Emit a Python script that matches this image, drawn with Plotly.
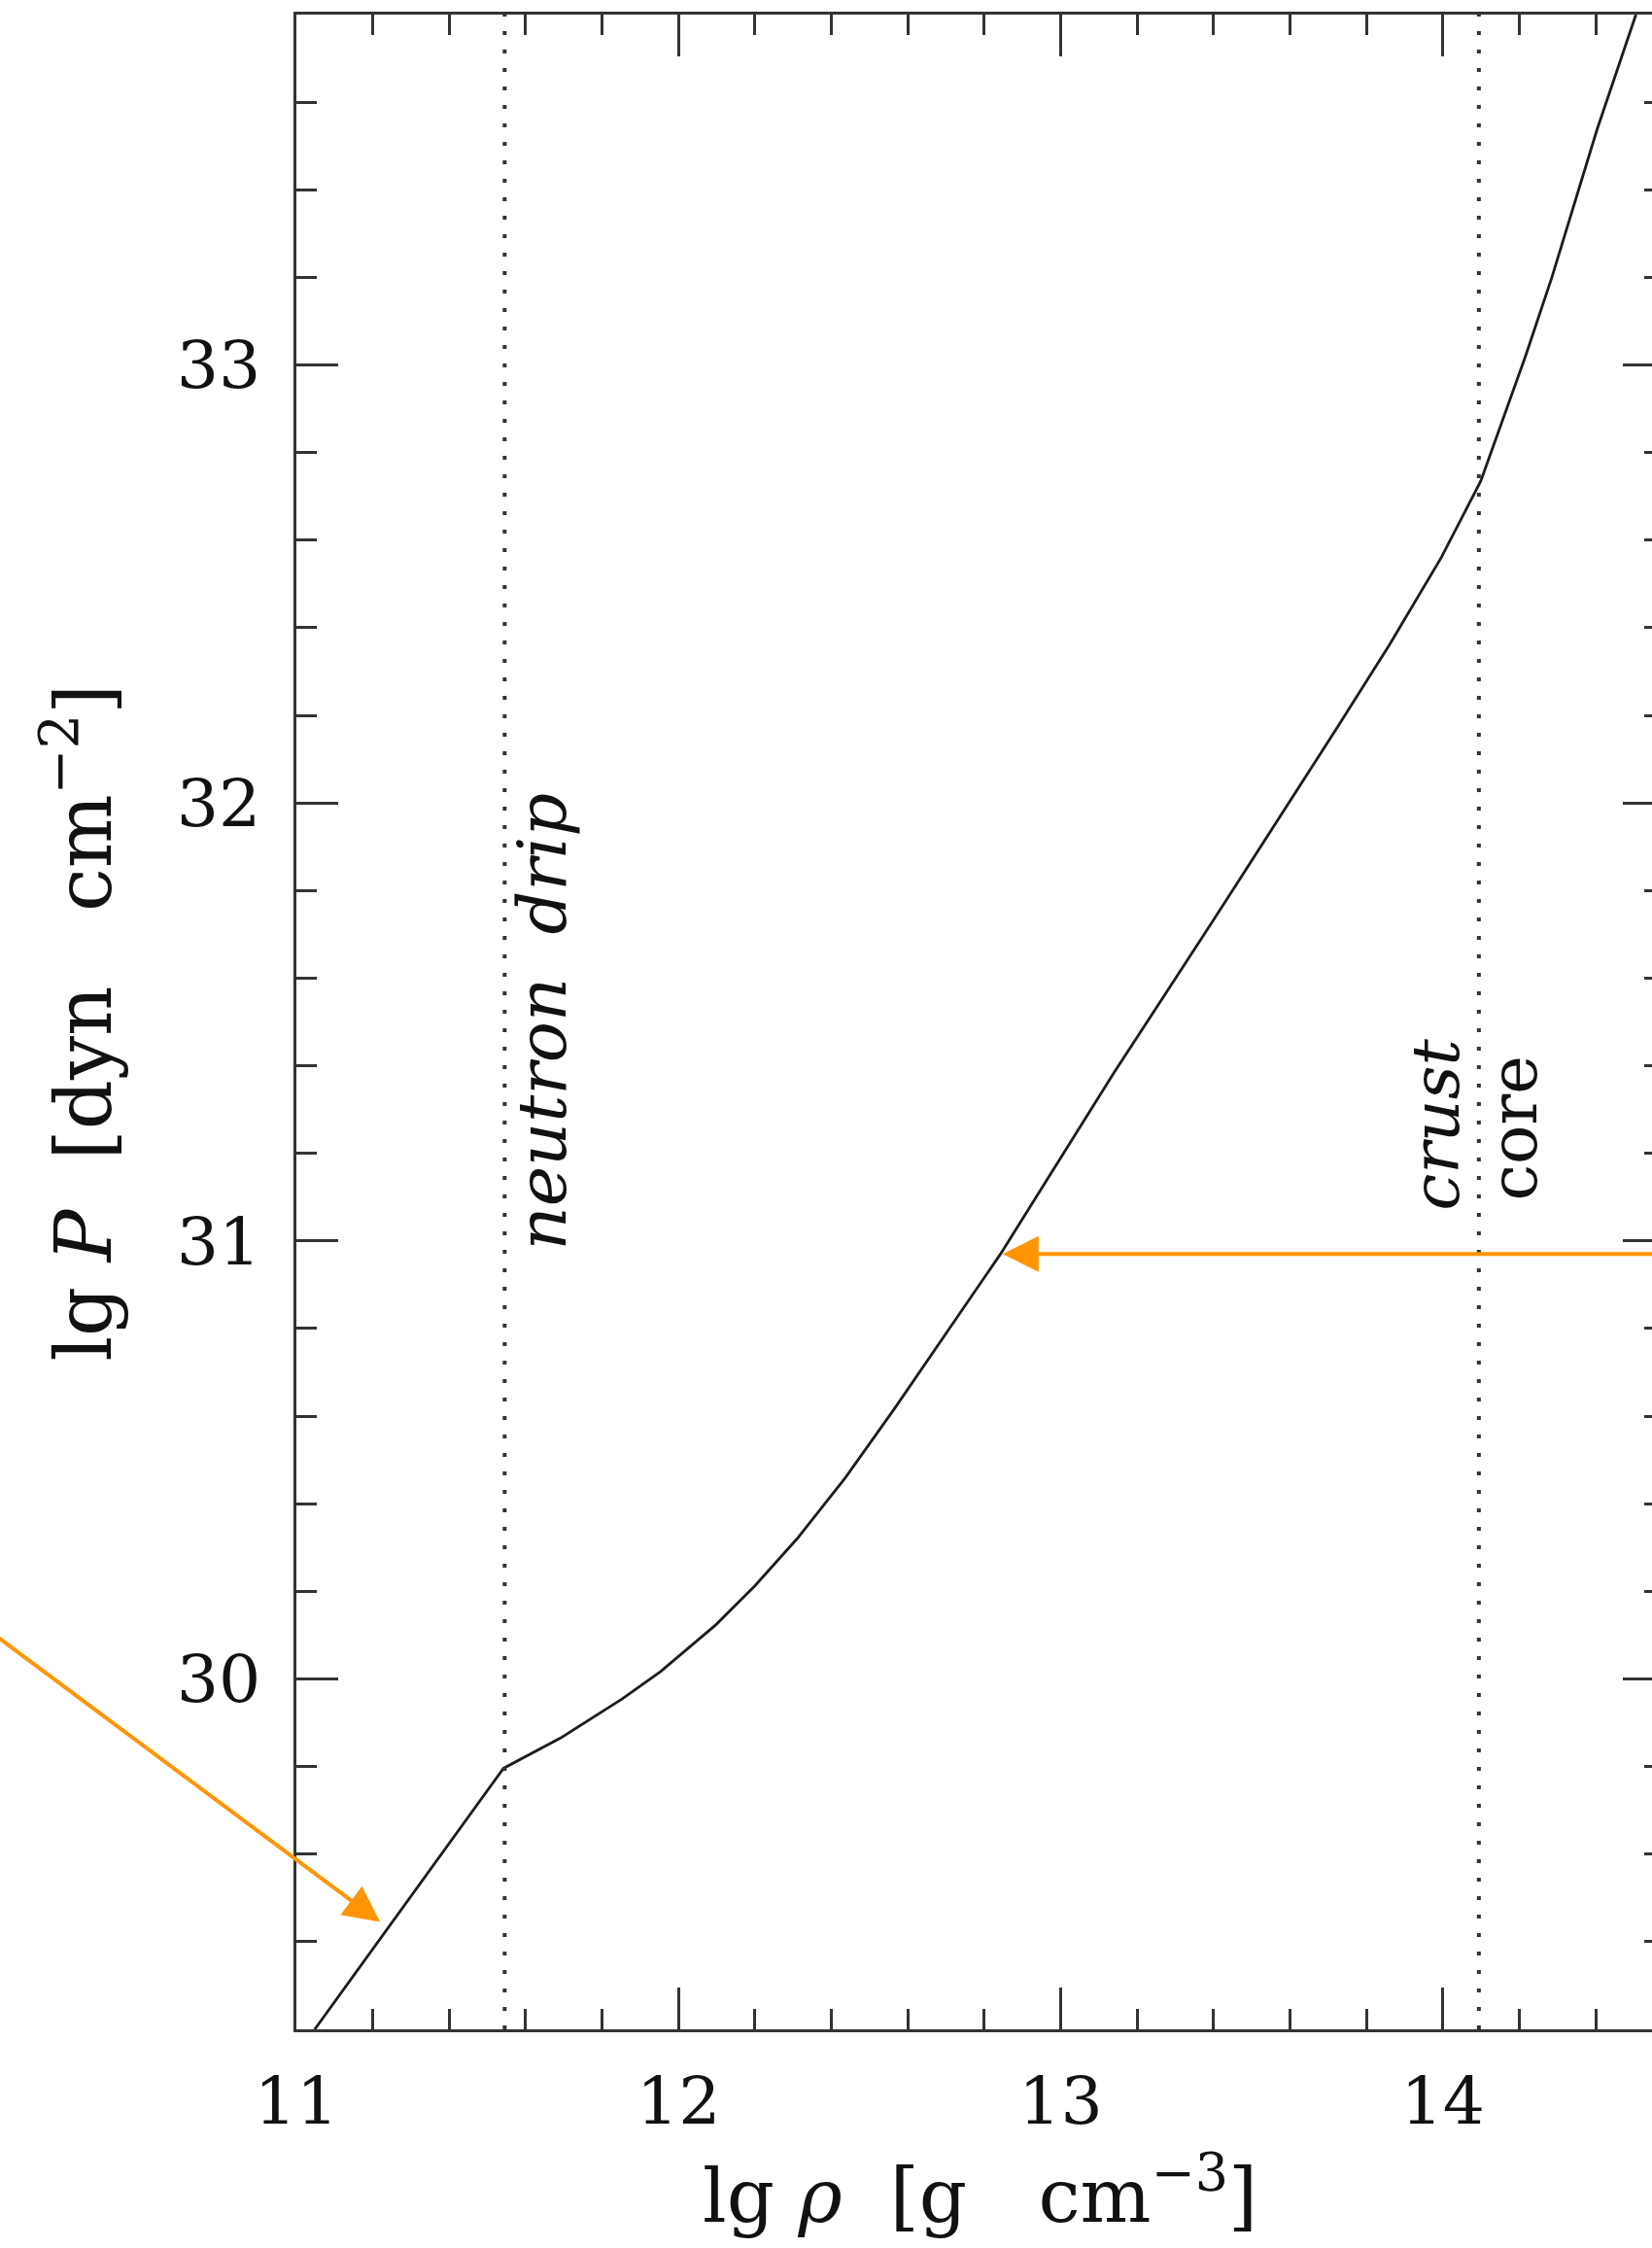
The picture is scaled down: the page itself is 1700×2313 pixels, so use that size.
import plotly.graph_objects as go

# ---- data ----
lg_rho = [11.048, 11.542, 11.691, 11.852, 11.953, 12.098, 12.199, 12.310, 12.437,
          12.564, 12.843, 13.140, 13.394, 13.721, 13.860, 13.996, 14.099, 14.216,
          14.285, 14.403, 14.505]
lg_P = [29.20, 29.796, 29.865, 29.954, 30.017, 30.124, 30.212, 30.320, 30.460,
        30.616, 30.971, 31.385, 31.725, 32.169, 32.361, 32.561, 32.735, 33.02,
        33.20, 33.537, 33.80]

boundary_x = [11.545, 14.094]          # neutron drip, crust/core
x_ticks = [11, 12, 13, 14]
y_ticks = [30, 31, 32, 33]
x_range = [11.0, 14.547]
y_range = [29.2, 33.8]

# arrows: (tip_x, tip_y, tail_x, tail_y)
arrows = [
    (11.219, 29.445, 10.17, 30.127),
    (12.848, 30.970, 14.62, 30.970),
]

labels = [
    dict(text="<i>neutron  drip</i>", x=11.643, y=31.50, size=70),
    dict(text="<i>crust</i>", x=13.982, y=31.266, size=68),
    dict(text="core", x=14.186, y=31.258, size=67),
]

AX = "#333333"
FONT = "DejaVu Serif"
ORANGE = "#FF9505"

fig = go.Figure()
fig.add_trace(go.Scatter(x=lg_rho, y=lg_P, mode="lines",
                         line=dict(color="#1c1c1c", width=2.8),
                         showlegend=False, hoverinfo="skip"))
fig.add_trace(go.Scatter(x=[None], y=[None], yaxis="y2", mode="lines",
                         showlegend=False, hoverinfo="skip"))

for bx in boundary_x:
    fig.add_shape(type="line", xref="x", yref="paper", x0=bx, x1=bx, y0=0, y1=1,
                  line=dict(color="#333333", width=4, dash="4px,15px"))

for tx, ty, ax_, ay_ in arrows:
    fig.add_annotation(x=tx, y=ty, xref="x", yref="y", ax=ax_, ay=ay_,
                       axref="x", ayref="y", text="", showarrow=True,
                       arrowhead=2, arrowsize=1.85, arrowwidth=4,
                       arrowcolor=ORANGE, standoff=0)

for lab in labels:
    fig.add_annotation(x=lab["x"], y=lab["y"], xref="x", yref="y",
                       text=lab["text"], showarrow=False, textangle=-90,
                       font=dict(family=FONT, size=lab["size"], color="#111111"),
                       xanchor="center", yanchor="middle")

# axis titles
fig.add_annotation(x=12.79, y=-0.0800, xref="x", yref="paper",
                   text="lg <i>ρ</i>  [g   cm<sup>−3</sup>]", showarrow=False,
                   font=dict(family=FONT, size=77, color="#111111"),
                   xanchor="center", yanchor="middle")
fig.add_annotation(x=-0.1606, y=31.5, xref="paper", yref="y",
                   text="lg <i>P</i>  [dyn   cm<sup>−2</sup>]", showarrow=False,
                   textangle=-90,
                   font=dict(family=FONT, size=80, color="#111111"),
                   xanchor="center", yanchor="middle")

fig.update_layout(
    width=1700, height=2313,
    margin=dict(l=305, r=0, t=15, b=225),
    paper_bgcolor="white", plot_bgcolor="white",
    xaxis=dict(range=x_range, tickvals=x_ticks, ticks="inside", ticklen=43,
               tickwidth=3, tickcolor=AX, showline=True, linewidth=3,
               linecolor=AX, mirror="ticks", showgrid=False, zeroline=False,
               tickfont=dict(family=FONT, size=68, color="#111111"),
               ticklabelstandoff=12,
               minor=dict(dtick=0.2, tick0=11, ticks="inside", ticklen=21,
                          tickwidth=3, tickcolor=AX)),
    yaxis=dict(range=y_range, tickvals=y_ticks, ticks="inside", ticklen=43,
               tickwidth=3, tickcolor=AX, showline=True, linewidth=3,
               linecolor=AX, mirror=False, showgrid=False, zeroline=False,
               tickfont=dict(family=FONT, size=68, color="#111111"),
               ticklabelstandoff=20,
               minor=dict(dtick=0.2, tick0=30, ticks="inside", ticklen=21,
                          tickwidth=3, tickcolor=AX)),
    yaxis2=dict(range=y_range, overlaying="y", side="right", anchor="free",
                position=1.0, tickvals=y_ticks, ticks="inside", ticklen=30,
                tickwidth=3, tickcolor=AX, showline=False, showgrid=False,
                zeroline=False, showticklabels=False,
                minor=dict(dtick=0.2, tick0=30, ticks="inside", ticklen=8,
                           tickwidth=3, tickcolor=AX)),
)

fig.write_html("out.html")
